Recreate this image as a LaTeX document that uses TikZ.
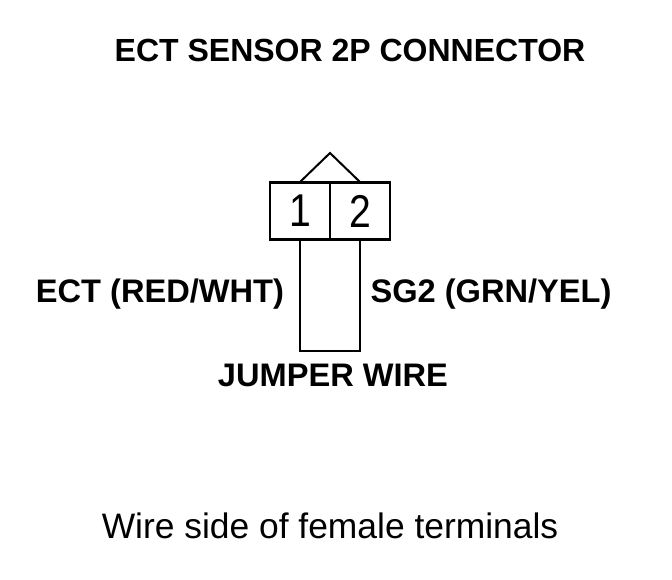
\documentclass[tikz,border=0pt]{standalone}
\usepackage{fontspec}
\setmainfont{Liberation Sans}
\usepackage{tikz}
\tikzset{
heading/.style={font=\fontsize{32pt}{36pt}\bfseries},
wirelabel/.style={font=\fontsize{32.6pt}{36pt}\bfseries},
pinbox/.style={draw,line width=2.6pt,minimum width=60pt,minimum height=57pt,inner sep=0pt,font=\fontsize{46pt}{50pt}\selectfont},
wire/.style={line width=2pt},
}
\begin{document}
\begin{tikzpicture}[x=1pt,y=-1pt]
\useasboundingbox (0,0) rectangle (672,580);
\node [heading] (title) at (350,50) {ECT SENSOR 2P CONNECTOR};
\node [pinbox] (pinone) at (300,211) {\scalebox{.85}[1]{1}};
\node [pinbox] (pintwo) at (360,211) {\scalebox{.85}[1]{2}};
\coordinate (keyleft) at (300,182);
\coordinate (keytop) at (330,153);
\coordinate (keyright) at (360,182);
\draw [wire] (keyleft) -- (keytop) -- (keyright);
\coordinate (wireleft) at (300,351);
\coordinate (wireright) at (360,351);
\draw [wire] (pinone.south) -- (wireleft) -- (wireright) -- (pintwo.south);
\node [wirelabel] (ectlabel) at (160,294) {ECT (RED/WHT)};
\node [wirelabel] (sglabel) at (491,294) {SG2 (GRN/YEL)};
\node [wirelabel] (jumperlabel) at (333,375) {JUMPER WIRE};
\node [font=\fontsize{35.4pt}{40pt}\selectfont] (caption) at (330,526) {Wire side of female terminals};
\end{tikzpicture}
\end{document}
